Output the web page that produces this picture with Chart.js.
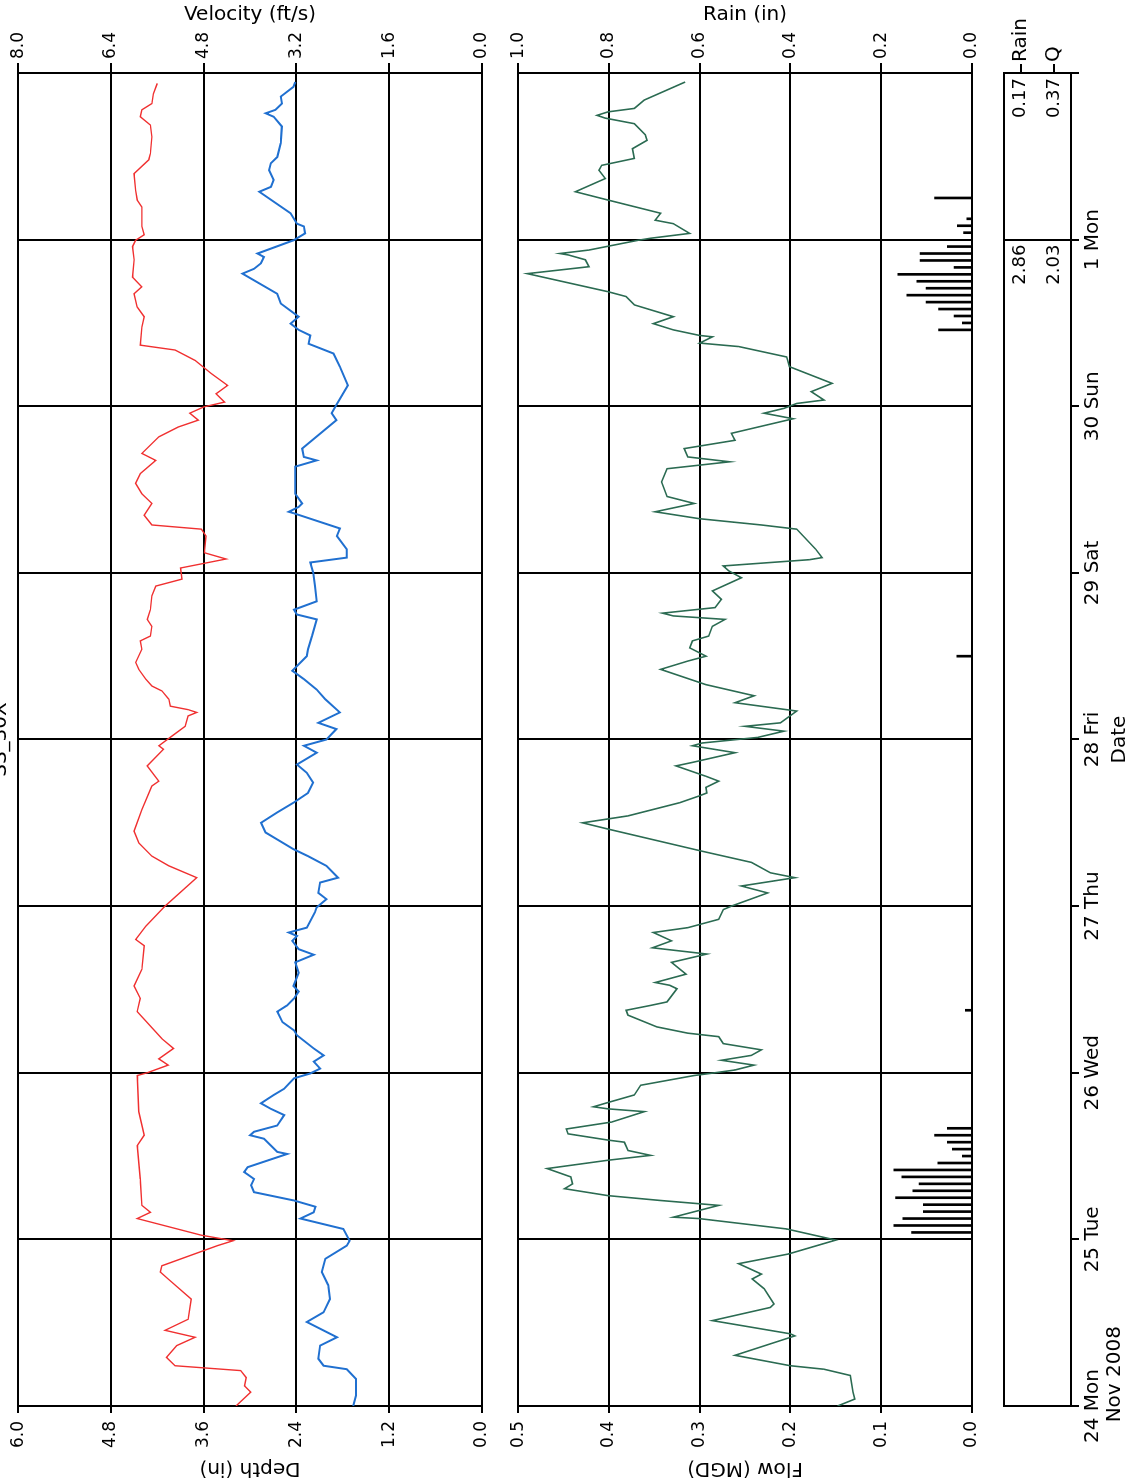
<!DOCTYPE html>
<html>
<head>
<meta charset="utf-8">
<title>Depth, velocity, flow and rain</title>
<script src="https://cdn.jsdelivr.net/npm/chart.js"></script>
<style>
  html, body { margin: 0; padding: 0; background: #fff; overflow: hidden; }
  /* the whole sheet is drawn landscape and turned a quarter turn */
  #sheet { position: absolute; left: 0; top: 0; width: 1483px; height: 1135px;
           transform-origin: 0 0; transform: rotate(-90deg) translateX(-1483px); background: #fff; }
  #sheet canvas { position: absolute; left: 0; }
</style>
</head>
<body>
<div id="sheet">
  <canvas id="levelChart" width="1483" height="500" style="top:0"></canvas>
  <canvas id="flowChart" width="1483" height="490" style="top:500px"></canvas>
  <canvas id="totalsChart" width="1483" height="145" style="top:990px"></canvas>
</div>
<script>
const siteName = 'SS_30X';

// time axis, hours since 24 Nov 2008 00:00
const dayTicks = [0, 24, 48, 72, 96, 120, 144, 168, 192];
const dayLabels = [['24 Mon', '          Nov 2008'], '25 Tue', '26 Wed', '27 Thu', '28 Fri', '29 Sat', '30 Sun', '1 Mon', ''];

const depthTicks = [0, 1.2, 2.4, 3.6, 4.8, 6.0];
const velocityTicks = [0, 1.6, 3.2, 4.8, 6.4, 8.0];
const flowTicks = [0, 0.1, 0.2, 0.3, 0.4, 0.5];
const rainTicks = [0, 0.2, 0.4, 0.6, 0.8, 1.0];

// depth (in)
const depthHours = [
  0, 2.0, 2.9, 4.1, 5.1, 5.8, 7.0, 8.7, 9.9, 10.9,
  12.5, 15.4, 18.3, 19.3, 20.2, 23.1, 23.8, 24.6, 27.0, 27.9,
  28.9, 32.7, 37.5, 39.0, 42.4, 47.6, 48.0, 49.1, 50.0, 51.5,
  52.9, 56.8, 58.7, 60.5, 62.9, 66.3, 67.2, 69.1, 72.0, 76.1,
  77.8, 79.2, 81.1, 82.8, 85.9, 89.3, 90.0, 92.2, 94.6, 95.1,
  96.5, 97.9, 99.4, 99.9, 100.3, 100.8, 101.8, 103.0, 103.7, 104.7,
  106.1, 107.1, 109.0, 110.2, 110.9, 112.3, 113.3, 114.7, 116.7, 118.1,
  119.1, 120.7, 122.0, 122.9, 125.3, 126.3, 126.9, 128.3, 130.0, 131.4,
  132.9, 134.3, 136.2, 137.2, 139.6, 141.0, 142.0, 143.0, 143.9, 144.6,
  145.8, 147.0, 148.7, 150.6, 152.1, 152.8, 155.4, 156.9, 158.3, 160.2,
  161.2, 162.6, 165.1, 167.0, 167.9, 168.7, 169.9, 172.7, 173.7, 175.1,
  177.5, 179.5, 180.4, 182.8, 184.5, 185.7, 186.7, 187.6, 189.0, 190.5
];
const depthIn = [
  3.18, 2.99, 3.07, 3.05, 3.12, 3.97, 4.08, 3.95, 3.71, 4.10,
  3.80, 3.76, 4.06, 4.16, 4.14, 3.42, 3.22, 3.63, 4.46, 4.29,
  4.40, 4.42, 4.46, 4.37, 4.44, 4.46, 4.33, 4.06, 4.18, 3.99,
  4.14, 4.46, 4.42, 4.50, 4.40, 4.37, 4.48, 4.35, 4.10, 3.69,
  4.05, 4.27, 4.44, 4.50, 4.40, 4.27, 4.18, 4.33, 4.12, 4.18,
  4.01, 3.84, 3.80, 3.69, 3.80, 4.03, 4.05, 4.14, 4.27, 4.35,
  4.44, 4.48, 4.40, 4.42, 4.29, 4.27, 4.33, 4.29, 4.27, 4.22,
  3.88, 3.90, 3.31, 3.59, 3.57, 3.63, 4.27, 4.37, 4.27, 4.40,
  4.48, 4.42, 4.22, 4.40, 4.18, 3.93, 3.67, 3.78, 3.60, 3.33,
  3.44, 3.29, 3.50, 3.71, 3.97, 4.42, 4.40, 4.37, 4.46, 4.50,
  4.40, 4.52, 4.50, 4.52, 4.48, 4.37, 4.40, 4.40, 4.46, 4.48,
  4.50, 4.31, 4.29, 4.27, 4.29, 4.42, 4.40, 4.27, 4.25, 4.20
];

// velocity (ft/s)
const velocityHours = [
  0, 1.5, 3.9, 5.3, 5.8, 6.8, 8.7, 9.9, 12.1, 13.5,
  15.4, 17.4, 19.3, 21.2, 23.1, 23.8, 25.5, 27.0, 27.9, 28.7,
  29.6, 30.8, 31.8, 32.7, 33.7, 34.4, 36.3, 36.6, 38.5, 39.0,
  39.5, 40.4, 41.9, 42.8, 43.6, 44.8, 45.7, 47.2, 47.9, 48.6,
  49.6, 50.5, 51.5, 53.4, 54.1, 55.3, 56.8, 57.7, 58.7, 59.7,
  60.5, 62.4, 63.9, 65.0, 65.8, 67.0, 67.7, 68.2, 68.9, 71.1,
  71.8, 73.0, 73.9, 75.4, 76.1, 77.8, 79.2, 80.2, 81.6, 82.6,
  84.0, 85.5, 86.9, 88.3, 89.8, 91.2, 92.4, 94.1, 95.1, 96.0,
  97.5, 98.4, 99.9, 101.8, 103.2, 104.7, 105.9, 108.0, 109.0, 110.9,
  113.3, 114.0, 114.7, 115.9, 118.1, 120.0, 121.5, 122.2, 123.4, 125.3,
  126.4, 128.6, 128.8, 129.5, 130.0, 131.4, 135.3, 136.2, 136.7, 137.9,
  142.0, 143.0, 144.2, 147.0, 149.7, 151.6, 153.0, 154.2, 155.0, 155.9,
  156.9, 158.8, 160.2, 163.1, 163.8, 164.6, 165.5, 166.0, 167.9, 168.9,
  169.9, 170.3, 171.8, 174.9, 175.6, 176.6, 178.0, 179.0, 179.9, 181.9,
  184.3, 185.7, 186.2, 186.7, 187.6, 188.6, 190.0, 190.7
];
const velocityFps = [
  2.22, 2.17, 2.17, 2.33, 2.73, 2.82, 2.79, 2.50, 3.02, 2.73,
  2.62, 2.65, 2.76, 2.70, 2.33, 2.28, 2.39, 3.13, 2.90, 2.87,
  3.24, 3.93, 3.98, 3.93, 4.10, 4.04, 3.36, 3.53, 3.76, 4.00,
  3.93, 3.53, 3.41, 3.64, 3.81, 3.59, 3.41, 3.24, 2.96, 2.79,
  2.90, 2.73, 2.90, 3.19, 3.24, 3.44, 3.53, 3.36, 3.24, 3.16,
  3.25, 3.16, 3.22, 2.90, 3.16, 3.27, 3.19, 3.33, 3.02, 2.88,
  2.85, 2.68, 2.82, 2.79, 2.48, 2.68, 3.00, 3.25, 3.53, 3.73,
  3.81, 3.53, 3.25, 3.00, 2.91, 3.02, 3.19, 2.85, 3.07, 2.68,
  2.51, 2.82, 2.45, 2.70, 2.85, 3.07, 3.27, 3.02, 3.00, 2.93,
  2.85, 3.19, 3.24, 2.85, 2.88, 2.91, 2.96, 2.33, 2.33, 2.50,
  2.45, 3.25, 3.33, 3.16, 3.10, 3.22, 3.22, 2.85, 3.07, 3.10,
  2.51, 2.59, 2.51, 2.31, 2.45, 2.56, 2.99, 2.96, 3.16, 3.30,
  3.16, 3.47, 3.53, 4.13, 3.93, 3.81, 3.76, 3.87, 3.25, 3.05,
  3.07, 3.19, 3.30, 3.84, 3.64, 3.59, 3.67, 3.64, 3.53, 3.47,
  3.45, 3.59, 3.73, 3.56, 3.45, 3.47, 3.25, 3.22
];

// flow (MGD)
const flowHours = [
  0, 1.0, 2.0, 4.4, 5.3, 5.8, 7.3, 10.1, 10.4, 12.3,
  14.2, 14.7, 16.9, 18.3, 19.0, 20.5, 21.9, 23.9, 25.5, 27.0,
  27.2, 28.9, 29.6, 30.3, 31.3, 32.0, 33.0, 34.2, 35.4, 36.1,
  36.8, 38.0, 38.3, 39.2, 39.9, 40.9, 42.4, 42.8, 43.1, 43.6,
  44.8, 46.2, 47.6, 48.0, 48.4, 49.1, 49.8, 50.5, 51.3, 52.2,
  53.2, 53.7, 54.6, 56.3, 57.0, 57.7, 58.2, 60.1, 60.6, 61.0,
  62.2, 63.9, 65.1, 66.0, 67.0, 68.2, 68.9, 70.1, 71.5, 72.0,
  73.9, 74.9, 76.1, 76.8, 78.3, 79.9, 83.1, 84.0, 85.0, 86.9,
  87.9, 88.3, 89.1, 90.0, 90.7, 92.2, 92.7, 94.1, 95.1, 95.5,
  96.3, 97.2, 97.9, 98.4, 100.1, 101.3, 102.3, 103.9, 106.1, 107.3,
  108.0, 109.2, 110.2, 110.9, 112.3, 113.3, 113.8, 114.2, 115.0, 116.2,
  117.4, 119.3, 120.3, 121.0, 121.9, 122.2, 123.4, 126.3, 126.9, 127.8,
  128.8, 130.0, 131.0, 133.1, 135.0, 136.0, 136.7, 137.9, 139.1, 140.1,
  142.2, 143.0, 143.7, 144.4, 144.9, 146.1, 147.3, 149.7, 151.1, 152.6,
  153.1, 154.0, 154.2, 155.0, 155.9, 156.9, 158.6, 159.8, 160.5, 163.1,
  164.1, 165.1, 165.8, 166.0, 166.5, 167.9, 168.2, 168.9, 170.3, 170.8,
  171.8, 173.7, 174.9, 176.8, 178.0, 178.7, 179.7, 181.1, 182.3, 183.1,
  184.7, 185.5, 185.9, 186.4, 186.9, 188.1, 190.7
];
const flowMgd = [
  0.148, 0.129, 0.131, 0.134, 0.163, 0.200, 0.261, 0.195, 0.200, 0.286,
  0.222, 0.218, 0.229, 0.242, 0.232, 0.257, 0.202, 0.150, 0.204, 0.301,
  0.329, 0.279, 0.343, 0.401, 0.449, 0.440, 0.442, 0.468, 0.401, 0.354,
  0.379, 0.383, 0.401, 0.445, 0.447, 0.397, 0.361, 0.401, 0.417, 0.404,
  0.372, 0.365, 0.306, 0.283, 0.261, 0.240, 0.276, 0.243, 0.232, 0.274,
  0.279, 0.313, 0.347, 0.379, 0.381, 0.354, 0.336, 0.325, 0.333, 0.349,
  0.315, 0.331, 0.292, 0.352, 0.331, 0.351, 0.313, 0.279, 0.274, 0.265,
  0.225, 0.254, 0.195, 0.222, 0.243, 0.297, 0.401, 0.429, 0.379, 0.322,
  0.300, 0.292, 0.293, 0.279, 0.293, 0.326, 0.308, 0.261, 0.308, 0.297,
  0.236, 0.207, 0.250, 0.211, 0.193, 0.261, 0.240, 0.293, 0.343, 0.313,
  0.293, 0.311, 0.308, 0.290, 0.286, 0.272, 0.329, 0.341, 0.283, 0.276,
  0.286, 0.254, 0.268, 0.274, 0.179, 0.165, 0.172, 0.193, 0.232, 0.300,
  0.349, 0.306, 0.336, 0.342, 0.336, 0.267, 0.313, 0.317, 0.261, 0.265,
  0.197, 0.229, 0.207, 0.193, 0.163, 0.177, 0.154, 0.201, 0.204, 0.257,
  0.300, 0.286, 0.300, 0.329, 0.351, 0.329, 0.372, 0.381, 0.401, 0.490,
  0.422, 0.426, 0.445, 0.454, 0.422, 0.368, 0.354, 0.311, 0.329, 0.349,
  0.343, 0.401, 0.437, 0.404, 0.411, 0.408, 0.372, 0.374, 0.358, 0.360,
  0.372, 0.404, 0.413, 0.401, 0.372, 0.361, 0.316
];

// hourly rain (in)
const rainHours = [
  25, 26, 27, 28, 29, 30, 31, 32, 33, 34, 35, 36, 37, 38, 39, 40,
  57, 108,
  155, 156, 157, 158, 159, 160, 161, 162, 163, 164, 165, 166, 167,
  169, 170, 171, 174
];
const rainIn = [
  0.133, 0.172, 0.152, 0.107, 0.107, 0.168, 0.130, 0.116, 0.154, 0.172, 0.075, 0.021, 0.043, 0.054, 0.082, 0.054,
  0.014, 0.033,
  0.073, 0.021, 0.039, 0.073, 0.101, 0.143, 0.101, 0.121, 0.163, 0.039, 0.114, 0.114, 0.054,
  0.018, 0.032, 0.011, 0.082
];

// weekly totals strip
const totalRows = ['Rain', 'Q'];
const weekEnds = [168, 192];
const rainTotals = [2.86, 0.17];
const flowTotals = [2.03, 0.37];

Chart.defaults.font.family = '"DejaVu Sans", sans-serif';
Chart.defaults.font.size = 17;
Chart.defaults.color = '#000';

function points(hours, values) {
    return hours.map((h, i) => ({ x: h, y: values[i] }));
}

function fixTicks(list) {
    return scale => { scale.ticks = list.map(v => ({ value: v })); };
}

function timeAxis() {
    return {
        type: 'linear', min: 0, max: 192, offset: false,
        afterBuildTicks: fixTicks(dayTicks),
        afterFit: s => { s.height = 0; },
        ticks: { display: false },
        grid: { color: '#000', lineWidth: 2, drawTicks: false, offset: false },
        border: { display: false }
    };
}

function valueAxis(pos, list, title, onArea, width) {
    const left = pos === 'left';
    return {
        type: 'linear', position: pos, min: list[0], max: list[list.length - 1],
        afterBuildTicks: fixTicks(list),
        afterFit: s => { s.width = width; },
        ticks: { padding: left ? 8 : 4, callback: v => v.toFixed(1) },
        grid: { color: '#000', lineWidth: 2, tickLength: left ? 7 : 10, drawOnChartArea: onArea },
        border: { display: false },
        title: { display: true, text: title, font: { size: 20 }, padding: { top: 3, bottom: 0 } }
    };
}

const baseOptions = {
    responsive: false,
    animation: false,
    devicePixelRatio: 1,
    elements: { point: { radius: 0 }, line: { tension: 0, fill: false } },
    plugins: { legend: { display: false }, tooltip: { enabled: false } }
};

// site name, mostly cut off at the top of the sheet
const cutTitle = {
    id: 'cutTitle',
    afterDraw(chart) {
        const { ctx, chartArea } = chart;
        ctx.save();
        ctx.font = '20px "DejaVu Sans"';
        ctx.fillStyle = '#000';
        ctx.textAlign = 'center';
        ctx.textBaseline = 'alphabetic';
        ctx.fillText(siteName, (chartArea.left + chartArea.right) / 2, 6);
        ctx.restore();
    }
};

const frame = {
    id: 'frame',
    afterDraw(chart) {
        const { ctx, chartArea: a } = chart;
        ctx.save();
        ctx.strokeStyle = '#000';
        ctx.lineWidth = 2;
        ctx.strokeRect(a.left, a.top, a.right - a.left, a.bottom - a.top);
        ctx.restore();
    }
};

const weekTotals = {
    id: 'weekTotals',
    afterDraw(chart) {
        const { ctx, scales: { x, y } } = chart;
        ctx.save();
        ctx.font = '18px "DejaVu Sans"';
        ctx.fillStyle = '#000';
        ctx.textAlign = 'right';
        ctx.textBaseline = 'middle';
        weekEnds.forEach((h, i) => {
            const px = x.getPixelForValue(h) - 5;
            ctx.fillText(rainTotals[i].toFixed(2), px, y.getPixelForTick(0));
            ctx.fillText(flowTotals[i].toFixed(2), px, y.getPixelForTick(1));
        });
        ctx.restore();
    }
};

// depth / velocity
new Chart(document.getElementById('levelChart'), {
    type: 'line',
    data: {
        datasets: [{
            label: 'Depth (in)',
            data: points(depthHours, depthIn),
            yAxisID: 'depth',
            borderColor: '#f03030',
            borderWidth: 1.4
        }, {
            label: 'Velocity (ft/s)',
            data: points(velocityHours, velocityFps),
            yAxisID: 'velocity',
            borderColor: '#2070d0',
            borderWidth: 2
        }]
    },
    options: Object.assign({}, baseOptions, {
        layout: { padding: { top: 18, bottom: 13, left: 0, right: 0 } },
        scales: {
            x: timeAxis(),
            depth: valueAxis('left', depthTicks, 'Depth (in)', true, 77),
            velocity: valueAxis('right', velocityTicks, 'Velocity (ft/s)', false, 73)
        }
    }),
    plugins: [cutTitle]
});

// flow / rain
new Chart(document.getElementById('flowChart'), {
    type: 'line',
    data: {
        datasets: [{
            label: 'Flow (MGD)',
            data: points(flowHours, flowMgd),
            yAxisID: 'flow',
            borderColor: '#2b6b52',
            borderWidth: 1.6
        }, {
            type: 'bar',
            label: 'Rain (in)',
            data: points(rainHours, rainIn),
            yAxisID: 'rain',
            backgroundColor: '#000',
            borderWidth: 0,
            barThickness: 2
        }]
    },
    options: Object.assign({}, baseOptions, {
        layout: { padding: { top: 12, bottom: 12, left: 0, right: 0 } },
        scales: {
            x: timeAxis(),
            flow: valueAxis('left', flowTicks, 'Flow (MGD)', true, 77),
            rain: valueAxis('right', rainTicks, 'Rain (in)', false, 73)
        }
    })
});

// weekly totals strip and date axis
new Chart(document.getElementById('totalsChart'), {
    type: 'line',
    data: { datasets: [] },
    options: Object.assign({}, baseOptions, {
        layout: { padding: { top: 14, bottom: 0, left: 77, right: 0 } },
        scales: {
            x: {
                type: 'linear', min: 0, max: 192, offset: false,
                afterBuildTicks: fixTicks(dayTicks),
                afterFit: s => { s.height = 64; s.paddingLeft = 0; s.paddingRight = 0; },
                ticks: {
                    font: { size: 20, lineHeight: 1.1 }, padding: 3,
                    maxRotation: 0, autoSkip: false,
                    callback: (v, i) => dayLabels[i]
                },
                grid: {
                    color: c => (c.tick && c.tick.value === weekEnds[0]) ? '#000' : 'rgba(0,0,0,0)',
                    tickColor: '#000', lineWidth: 2, tickLength: 8, offset: false
                },
                border: { display: false },
                title: { display: true, text: 'Date', font: { size: 20 }, padding: { top: 0, bottom: 3 } }
            },
            y: {
                type: 'category', labels: totalRows, position: 'right', offset: true,
                afterFit: s => { s.width = 73; },
                ticks: { font: { size: 20 }, padding: 2 },
                grid: { color: '#000', lineWidth: 2, tickLength: 9, drawOnChartArea: false, offset: false },
                border: { display: false }
            }
        }
    }),
    plugins: [frame, weekTotals]
});
</script>
</body>
</html>
